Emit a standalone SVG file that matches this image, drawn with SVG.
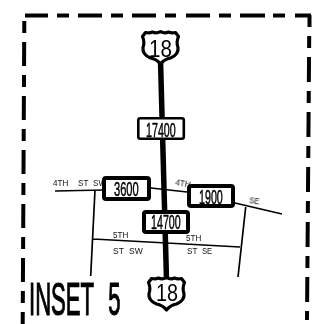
<svg xmlns="http://www.w3.org/2000/svg" width="323" height="324" viewBox="0 0 323 324">
<style>
text{filter:url(#g)}
.t{font-family:"Liberation Sans","DejaVu Sans",sans-serif;fill:#000}
.road{fill:none;stroke:#000;stroke-width:1.7}
.box{fill:#fff;stroke:#000;stroke-width:4}
.lab{font-size:8.5px;fill:#111;font-family:"Liberation Sans","DejaVu Sans",sans-serif}
.num{font-size:21px;font-family:"Liberation Sans","DejaVu Sans",sans-serif;fill:#000;stroke:#000;stroke-width:.5}
.shield{fill:#fff;stroke:#000;stroke-width:3.200;stroke-linejoin:round}
.dash{fill:none;stroke:#000;stroke-width:4}
</style>
<defs>
<filter id="g" x="-10%" y="-10%" width="120%" height="120%" color-interpolation-filters="sRGB"><feOffset dx="0" dy="0"/></filter>
<path id="sh" d="M-15,-15 Q-11,-14 -8,-15.500 Q-4,-13.500 0,-16 Q4,-13.500 8,-15.500 Q11,-14 15,-15 L18,-11 Q15.500,-5 17.500,0 Q18.500,7 10,10.500 Q4,11.500 0,16.500 Q-4,11.500 -10,10.500 Q-18.500,7 -17.500,0 Q-15.500,-5 -18,-11 Z"/>
</defs>
<g id="frame">
<path class="dash" d="M25,15.500 H311" stroke-dasharray="23 9 12 9 24 9 12 9 24 9 11 10 24 9 12 9 25 8 12 10 14 0"/>
<path class="dash" d="M309.500,15 V27"/>
<path class="dash" d="M309.200,36 L307,320" stroke-dasharray="12 9 25 9"/>
<path class="dash" d="M24.300,21 L22.700,324" stroke-dasharray="12 9 24 9"/>
</g>
<g id="connectors">
<path d="M160.500,60 L166.500,280" fill="none" stroke="#000" stroke-width="5.500"/>
<path class="road" d="M55,191 L104,190 M151,188 L187,192 M235,203 L282,214"/>
<path class="road" d="M95,190 L90.700,276 M93,239 L240,247 M245.700,207 L238,277"/>
</g>
<g id="labels">
<text class="lab" transform="translate(53 186) scale(.95 1)">4TH</text><text class="lab" transform="translate(78 186) scale(.95 1)">ST</text><text class="lab" transform="translate(93 186) scale(.95 1)">SW</text>
<text class="lab" transform="translate(175 185) rotate(10) scale(.95 1)">4TH</text>
<text class="lab" transform="translate(249 203) rotate(8) scale(.9 1)">SE</text>
<text class="lab" transform="translate(113 238) scale(.95 1)">5TH</text><text class="lab" transform="translate(113 254)">ST</text><text class="lab" transform="translate(129 254)">SW</text>
<text class="lab" transform="translate(186 241) scale(.95 1)">5TH</text><text class="lab" transform="translate(187 254) scale(.95 1)">ST</text><text class="lab" transform="translate(202 254) scale(.9 1)">SE</text>
</g>
<g id="shield-top"><use href="#sh" x="160.500" y="47.500" class="shield"/><text class="t" font-size="24" transform="translate(149 57) scale(.86 1)">18</text></g>
<g id="shield-bottom"><use href="#sh" x="166.500" y="293.500" class="shield"/><text class="t" font-size="23" transform="translate(156 301) scale(.86 1)">18</text></g>
<g id="n17400"><rect class="box" x="138.300" y="118.300" width="45.500" height="20.500" rx="2" style="stroke-width:2.600"/><text class="num" transform="translate(146 137) scale(.51 1)">17400</text></g>
<g id="n3600"><rect class="box" x="104" y="178" width="45" height="21" rx="2"/><text class="num" transform="translate(114 196) scale(.53 1)">3600</text></g>
<g id="n1900"><rect class="box" x="189" y="186" width="44" height="20" rx="2"/><text class="num" transform="translate(199 204) scale(.51 1)">1900</text></g>
<g id="n14700"><rect class="box" x="144" y="212" width="44" height="20" rx="2"/><text class="num" transform="translate(151 229) scale(.51 1)">14700</text></g>
<g id="title"><text class="t" font-size="46" word-spacing="18" stroke="#000" stroke-width="1.200" transform="translate(29 315) scale(.48 1)">INSET 5</text></g>
</svg>
